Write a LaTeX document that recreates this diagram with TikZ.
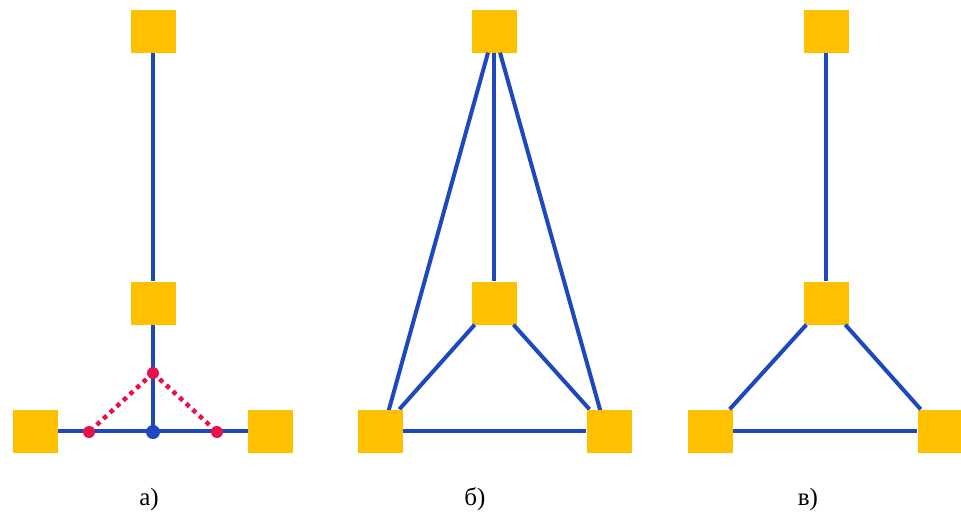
\documentclass[tikz,border=0pt]{standalone}
\usepackage{fontspec}
\setmainfont{Liberation Serif}
\definecolor{sqy}{HTML}{FFC000}
\definecolor{lnb}{HTML}{1F48BE}
\definecolor{rdd}{HTML}{E6124A}
\begin{document}
\begin{tikzpicture}[x=1pt,y=-1pt,
  sq/.style={rectangle,fill=sqy,draw=none,minimum width=45pt,minimum height=43pt,inner sep=0pt},
  edge/.style={draw=lnb,line width=4pt},
  rdot/.style={circle,fill=rdd,minimum size=12pt,inner sep=0pt},
  bdot/.style={circle,fill=lnb,minimum size=14pt,inner sep=0pt},
  rline/.style={draw=rdd,line width=4.5pt,dash pattern=on 4.5pt off 4.5pt},
  lab/.style={font=\fontsize{25}{27}\selectfont,inner sep=0pt}]
\useasboundingbox (0,0) rectangle (961,515);
% panel a
\node[sq] (a1) at (153,31) {};
\node[sq] (a2) at (153,303) {};
\node[sq] (a3) at (35.5,431) {};
\node[sq] (a4) at (270.5,431) {};
\coordinate (ab) at (153,432);
\coordinate (at) at (153,373);
\coordinate (al) at (89,432);
\coordinate (ar) at (217,432);
\draw[edge] (a1) -- (a2);
\draw[edge] (a2) -- (ab);
\draw[edge] (a3) -- (a4);
\draw[rline] (at) -- (al);
\draw[rline] (at) -- (ar);
\node[bdot] (abd) at (ab) {};
\node[rdot] (atd) at (at) {};
\node[rdot] (ald) at (al) {};
\node[rdot] (ard) at (ar) {};
% panel b
\node[sq] (b1) at (494,31) {};
\node[sq] (b2) at (494,303) {};
\node[sq] (b3) at (380,431) {};
\node[sq] (b4) at (609,431) {};
\coordinate (b3t) at (383,431);
\coordinate (b4t) at (606,431);
\draw[edge] (b1) -- (b2);
\draw[edge] (b1) -- (b3t);
\draw[edge] (b1) -- (b4t);
\draw[edge] (b2) -- (b3);
\draw[edge] (b2) -- (b4);
\draw[edge] (b3) -- (b4);
\node[sq] at (b3) {};
\node[sq] at (b4) {};
% panel c
\node[sq] (c1) at (826,31) {};
\node[sq] (c2) at (826,303) {};
\node[sq] (c3) at (710,431) {};
\node[sq] (c4) at (940,431) {};
\draw[edge] (c1) -- (c2);
\draw[edge] (c2) -- (c3);
\draw[edge] (c2) -- (c4);
\draw[edge] (c3) -- (c4);
% labels
\node[lab] (la) at (149,499) {а)};
\node[lab] (lb) at (475,499) {б)};
\node[lab] (lc) at (808,499) {в)};
\end{tikzpicture}
\end{document}
